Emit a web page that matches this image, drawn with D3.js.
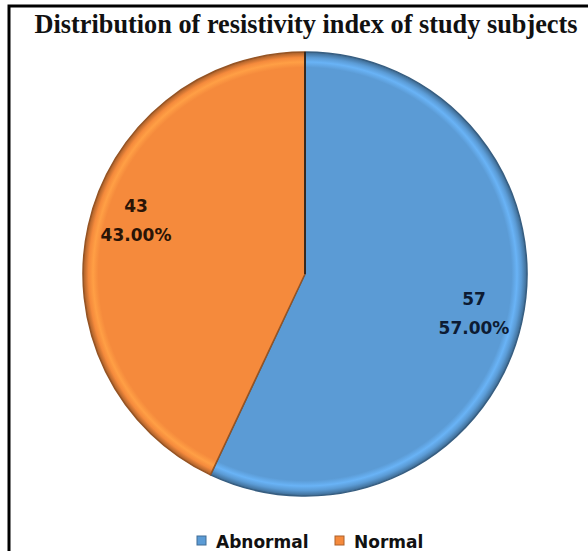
<!DOCTYPE html>
<html>
<head>
<meta charset="utf-8">
<script src="https://cdn.jsdelivr.net/npm/d3@7"></script>
<style>
  html, body { margin: 0; padding: 0; background: #fff; }
  svg { display: block; }
</style>
</head>
<body>
<svg id="chart" width="588" height="551"></svg>
<script>
// Chart data
const categories = ["Abnormal", "Normal"];
const counts = [57, 43];
const percents = ["57.00%", "43.00%"];
const colors = ["#5B9BD5", "#F58A3C"];
const title = "Distribution of resistivity index of study subjects";

const svg = d3.select("#chart");
const W = 588, H = 551;
const cx = 305, cy = 274, R = 222;

// Frame lines (top and left)
svg.append("path")
  .attr("d", `M9,${H} L9,6 L${W},6`)
  .attr("fill", "none").attr("stroke", "#000").attr("stroke-width", 3);

// Title
svg.append("text")
  .attr("x", 306).attr("y", 33)
  .attr("text-anchor", "middle")
  .attr("font-family", "'Liberation Serif', 'Times New Roman', serif")
  .attr("font-weight", "bold")
  .attr("font-size", 26.3)
  .attr("fill", "#111")
  .text(title);

const defs = svg.append("defs");
// Bevelled rim gradient per slice (centred on the pie origin)
colors.forEach((c, i) => {
  const base = d3.color(c);
  const g = defs.append("radialGradient")
    .attr("id", "grad" + i)
    .attr("gradientUnits", "userSpaceOnUse")
    .attr("cx", 0).attr("cy", 0).attr("r", R);
  g.append("stop").attr("offset", "0%").attr("stop-color", base.formatHex());
  g.append("stop").attr("offset", "93%").attr("stop-color", base.formatHex());
  g.append("stop").attr("offset", "95.5%").attr("stop-color", base.brighter(0.4).formatHex());
  g.append("stop").attr("offset", "97.5%").attr("stop-color", base.formatHex());
  g.append("stop").attr("offset", "100%").attr("stop-color", base.darker(1.1).formatHex());
});

const g = svg.append("g").attr("transform", `translate(${cx},${cy})`);
const pie = d3.pie().sort(null).value(d => d)(counts);
const arc = d3.arc().innerRadius(0).outerRadius(R);

g.selectAll("path.slice")
  .data(pie)
  .join("path")
  .attr("class", "slice")
  .attr("d", arc)
  .attr("fill", (d, i) => `url(#grad${i})`)
  .attr("stroke", (d, i) => d3.color(colors[i]).darker(1.4).formatHex())
  .attr("stroke-width", 1.5)
  .attr("stroke-linejoin", "round");

// Divider at the 12 o'clock start angle
g.append("line")
  .attr("x1", 0).attr("y1", 0).attr("x2", 0).attr("y2", -R)
  .attr("stroke", "#1a1a1a").attr("stroke-width", 1.5);

// Data labels
const labelArc = d3.arc().innerRadius(R * 0.78).outerRadius(R * 0.78);
const labelShift = [0, -17];
const lbl = g.selectAll("text.lbl")
  .data(pie)
  .join("text")
  .attr("class", "lbl")
  .attr("transform", (d, i) => {
    const p = labelArc.centroid(d);
    return `translate(${p[0]},${p[1] + labelShift[i]})`;
  })
  .attr("text-anchor", "middle")
  .attr("font-family", "'DejaVu Sans', 'Noto Sans', sans-serif")
  .attr("font-weight", "bold")
  .attr("font-size", 17)
  .attr("fill", (d, i) => i === 0 ? "#0d1b33" : "#2a1406");
lbl.append("tspan").attr("x", 0).attr("dy", "-0.4em").text((d, i) => counts[i]);
lbl.append("tspan").attr("x", 0).attr("dy", "1.7em").text((d, i) => percents[i]);

// Legend
const legendX = [197, 335];
const leg = svg.append("g").selectAll("g")
  .data(categories)
  .join("g")
  .attr("transform", (d, i) => `translate(${legendX[i]},548)`);
leg.append("rect")
  .attr("x", 0).attr("y", -12).attr("width", 9).attr("height", 9)
  .attr("fill", (d, i) => colors[i])
  .attr("stroke", (d, i) => d3.color(colors[i]).darker(1).formatHex())
  .attr("stroke-width", 1);
leg.append("text")
  .attr("x", 19).attr("y", 0)
  .attr("font-family", "'DejaVu Sans', Arial, sans-serif")
  .attr("font-weight", "bold")
  .attr("font-size", 17)
  .attr("fill", "#111")
  .text(d => d);
</script>
</body>
</html>
